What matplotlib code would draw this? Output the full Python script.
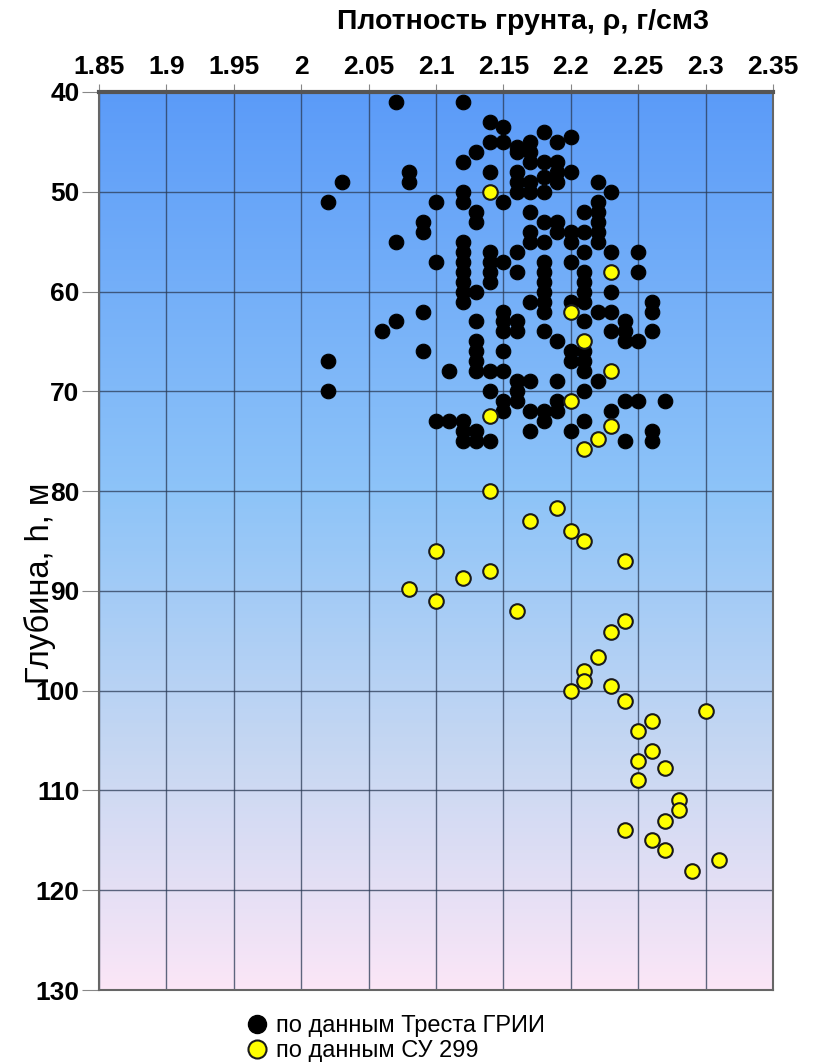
import matplotlib
matplotlib.use('Agg')
import matplotlib.pyplot as plt
import numpy as np
from matplotlib.colors import LinearSegmentedColormap
from matplotlib.lines import Line2D

# density ticks on top axis and depth ticks on left axis
x_ticks = [1.85, 1.9, 1.95, 2.0, 2.05, 2.1, 2.15, 2.2, 2.25, 2.3, 2.35]
x_tick_labels = ['1.85', '1.9', '1.95', '2', '2.05', '2.1', '2.15', '2.2', '2.25', '2.3', '2.35']
y_ticks = [40, 50, 60, 70, 80, 90, 100, 110, 120, 130]

# points "по данным Треста ГРИИ" (density, depth)
trest_rho = [2.02, 2.02, 2.02, 2.03, 2.06, 2.07, 2.07, 2.07, 2.08, 2.08,
             2.09, 2.09, 2.09, 2.09, 2.10, 2.10, 2.10, 2.11, 2.11,
             2.12, 2.12, 2.12, 2.12, 2.12, 2.12, 2.12, 2.12, 2.12, 2.12, 2.12, 2.12, 2.12, 2.12,
             2.13, 2.13, 2.13, 2.13, 2.13, 2.13, 2.13, 2.13, 2.13, 2.13, 2.13,
             2.14, 2.14, 2.14, 2.14, 2.14, 2.14, 2.14, 2.14, 2.14, 2.14,
             2.15, 2.15, 2.15, 2.15, 2.15, 2.15, 2.15, 2.15, 2.15, 2.15, 2.15,
             2.16, 2.16, 2.16, 2.16, 2.16, 2.16, 2.16, 2.16, 2.16, 2.16, 2.16, 2.16,
             2.17, 2.17, 2.17, 2.17, 2.17, 2.17, 2.17, 2.17, 2.17, 2.17, 2.17, 2.17,
             2.18, 2.18, 2.18, 2.18, 2.18, 2.18, 2.18, 2.18, 2.18, 2.18, 2.18, 2.18, 2.18, 2.18, 2.18,
             2.19, 2.19, 2.19, 2.19, 2.19, 2.19, 2.19, 2.19, 2.19, 2.19,
             2.20, 2.20, 2.20, 2.20, 2.20, 2.20, 2.20, 2.20, 2.20,
             2.21, 2.21, 2.21, 2.21, 2.21, 2.21, 2.21, 2.21, 2.21, 2.21, 2.21, 2.21, 2.21,
             2.22, 2.22, 2.22, 2.22, 2.22, 2.22, 2.22, 2.22,
             2.23, 2.23, 2.23, 2.23, 2.23, 2.23,
             2.24, 2.24, 2.24, 2.24, 2.24,
             2.25, 2.25, 2.25, 2.25,
             2.26, 2.26, 2.26, 2.26, 2.26,
             2.27]
trest_h = [51, 67, 70, 49, 64, 41, 55, 63, 48, 49,
           53, 54, 62, 66, 51, 57, 73, 68, 73,
           41, 47, 50, 51, 55, 56, 57, 58, 59, 60, 61, 73, 74, 75,
           46, 52, 53, 60, 63, 65, 66, 67, 68, 74, 75,
           43, 45, 48, 56, 57, 58, 59, 68, 70, 75,
           43.5, 45, 51, 57, 62, 63, 64, 66, 68, 71, 72,
           45.5, 46, 48, 49, 50, 56, 58, 63, 64, 69, 70, 71,
           45, 46, 47, 49, 50, 52, 54, 55, 61, 69, 72, 74,
           44, 47, 48.5, 50, 53, 55, 57, 58, 59, 60, 61, 62, 64, 72, 73,
           45, 47, 48, 49, 53, 54, 65, 69, 71, 72,
           44.5, 48, 54, 55, 57, 61, 66, 67, 74,
           52, 54, 56, 58, 59, 60, 61, 63, 66, 67, 68, 70, 73,
           49, 51, 52, 53, 54, 55, 62, 69,
           50, 56, 60, 62, 64, 72,
           63, 64, 65, 71, 75,
           56, 58, 65, 71,
           61, 62, 64, 74, 75,
           71]

# points "по данным СУ 299"
su_rho = [2.14, 2.23, 2.20, 2.21, 2.23, 2.20, 2.14, 2.23, 2.22, 2.21,
          2.14, 2.19, 2.17, 2.20, 2.21, 2.10, 2.24, 2.14, 2.12, 2.08,
          2.10, 2.16, 2.24, 2.23, 2.22, 2.21, 2.21, 2.23, 2.20, 2.24,
          2.30, 2.26, 2.25, 2.26, 2.25, 2.27, 2.25, 2.28, 2.28, 2.27,
          2.24, 2.26, 2.27, 2.31, 2.29]
su_h = [50, 58, 62, 65, 68, 71, 72.5, 73.5, 74.8, 75.8,
        80, 81.7, 83, 84, 85, 86, 87, 88, 88.7, 89.8,
        91, 92, 93, 94.1, 96.6, 98, 99, 99.5, 100, 101,
        102, 103, 104, 106, 107, 107.8, 109, 111, 112, 113.1,
        114, 115, 116, 117, 118.1]

plt.rcParams['font.family'] = ['Liberation Sans', 'DejaVu Sans']

fig = plt.figure(figsize=(8.19, 10.62), dpi=100)
ax = fig.add_axes([99 / 819, 1 - 990 / 1062, 674 / 819, 898 / 1062])

# background gradient, blue at the top to pale pink at the bottom
bg = LinearSegmentedColormap.from_list('bg', [(0.0, '#5b9bf8'), (0.45, '#8ec4f8'),
                                              (0.75, '#c9d8f2'), (1.0, '#fbe6f7')])
grad = np.linspace(0, 1, 256).reshape(-1, 1)
ax.imshow(grad, cmap=bg, aspect='auto', extent=[1.85, 2.35, 130, 40], zorder=0)

ax.set_xlim(1.85, 2.35)
ax.set_ylim(130, 40)

ax.scatter(trest_rho, trest_h, s=110, c='black', edgecolors='black', linewidths=0.8, zorder=3)
ax.scatter(su_rho, su_h, s=110, c='#ffff00', edgecolors='#1a1a1a', linewidths=1.5, zorder=4)

ax.xaxis.tick_top()
ax.xaxis.set_label_position('top')
ax.set_xticks(x_ticks)
ax.set_xticklabels(x_tick_labels)
ax.set_yticks(y_ticks)
ax.tick_params(axis='x', length=6, color='#888888', labelsize=19, pad=3)
ax.tick_params(axis='y', length=12, color='#888888', labelsize=19, pad=2)
for lbl in ax.get_xticklabels() + ax.get_yticklabels():
    lbl.set_fontweight('bold')

ax.grid(True, color='#2a3a55', linewidth=1.0, alpha=0.75, zorder=1)
ax.set_axisbelow(True)

ax.spines['top'].set_linewidth(3)
ax.spines['top'].set_color('#555555')
for side in ['left', 'right', 'bottom']:
    ax.spines[side].set_linewidth(1.5)
    ax.spines[side].set_color('#666666')

fig.text(0.638, 0.979, 'Плотность грунта, ρ, г/см3', ha='center', va='center',
         fontsize=20.5, fontweight='bold')
fig.text(40 / 819, 1 - 583 / 1062, 'Глубина, h, м', ha='center', va='center',
         rotation=90, fontsize=23.5)

handles = [Line2D([], [], marker='o', ls='', ms=13, mfc='black', mec='black'),
           Line2D([], [], marker='o', ls='', ms=13, mfc='#ffff00', mec='#1a1a1a', mew=1.5)]
fig.legend(handles, ['по данным Треста ГРИИ', 'по данным СУ 299'],
           loc='upper left', bbox_to_anchor=(248 / 819, 1 - 1015 / 1062),
           frameon=False, handlelength=0.8, handletextpad=0.4,
           labelspacing=0.12, borderpad=0, borderaxespad=0,
           prop={'family': ['Liberation Sans', 'DejaVu Sans'], 'size': 17})

fig.savefig('out.png', dpi=100, facecolor='white')
